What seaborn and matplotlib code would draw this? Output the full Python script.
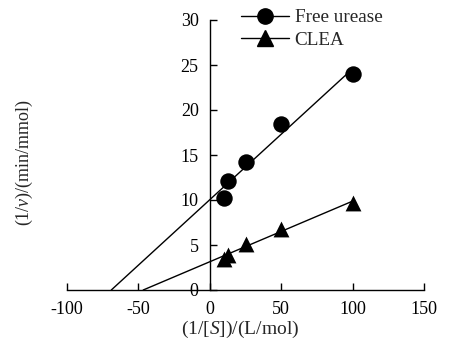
import numpy as np
import pandas as pd
import seaborn as sns
import matplotlib
matplotlib.use("Agg")
import matplotlib.pyplot as plt
from matplotlib.lines import Line2D

# Data
inv_s = [10, 12.5, 25, 50, 100]
free_urease = [10.2, 12.1, 14.2, 18.4, 24.0]
clea = [3.5, 3.9, 5.1, 6.8, 9.7]
series_names = ["Free urease", "CLEA"]
xticks = [-100, -50, 0, 50, 100, 150]
yticks = [0, 5, 10, 15, 20, 25, 30]

sns.set_theme(style="white")
plt.rcParams["font.family"] = ["Liberation Serif", "DejaVu Serif"]
plt.rcParams["mathtext.fontset"] = "custom"
plt.rcParams["mathtext.rm"] = "Liberation Serif"
plt.rcParams["mathtext.it"] = "Liberation Serif:italic"
plt.rcParams["axes.unicode_minus"] = False

fig = plt.figure(figsize=(4.49, 3.43), dpi=100)
ax = fig.add_axes([67/449, 1 - 290/343, (424 - 67)/449, 270/343])

df = pd.DataFrame({"x": inv_s * 2,
                   "y": free_urease + clea,
                   "series": [series_names[0]] * 5 + [series_names[1]] * 5})

markers = {"Free urease": "o", "CLEA": "^"}
for name, yv in zip(series_names, [free_urease, clea]):
    m, b = np.polyfit(inv_s, yv, 1)
    x0 = -b / m
    fit = pd.DataFrame({"x": [x0, max(inv_s)], "y": [0, m * max(inv_s) + b]})
    sns.lineplot(data=fit, x="x", y="y", ax=ax, color="black", lw=1.0,
                 legend=False)
    sub = df[df.series == name]
    sns.scatterplot(data=sub, x="x", y="y", ax=ax, color="black",
                    marker=markers[name], s=140 if name == "Free urease" else 130,
                    edgecolor="black", linewidth=0, legend=False, zorder=3)

ax.set_xlim(-100, 150)
ax.set_ylim(0, 30)
ax.set_xticks(xticks)
ax.set_yticks(yticks)
ax.spines["left"].set_position(("data", 0))
ax.spines["bottom"].set_position(("data", 0))
ax.spines["right"].set_visible(False)
ax.spines["top"].set_visible(False)
for s in ["left", "bottom"]:
    ax.spines[s].set_color("black")
    ax.spines[s].set_linewidth(1.0)
ax.tick_params(axis="both", direction="in", length=5, width=1.0,
               colors="black", labelsize=13, bottom=True, left=True)
ax.tick_params(axis="x", pad=8)
ax.tick_params(axis="y", pad=8)
ax.set_xlabel("")
ax.set_ylabel("")

fig.text(240/449, 1 - 329/343, r"(1/[$\mathit{S}$])/(L/mol)", ha="center",
         va="center", fontsize=14)
fig.text(24/449, 1 - 162/343, r"(1/$\mathit{v}$)/(min/mmol)", ha="center",
         va="center", fontsize=13, rotation=90)

handles = [Line2D([], [], color="black", lw=1.0, marker="o", markersize=11),
           Line2D([], [], color="black", lw=1.0, marker="^", markersize=11)]
leg = ax.legend(handles, series_names, loc="upper left",
                bbox_to_anchor=((241 - 67)/357, (290 - 9)/270), frameon=False,
                fontsize=13.8, handlelength=2.5, handletextpad=0.3,
                labelspacing=0.25, borderaxespad=0, borderpad=0)

fig.savefig("out.png", dpi=100)
